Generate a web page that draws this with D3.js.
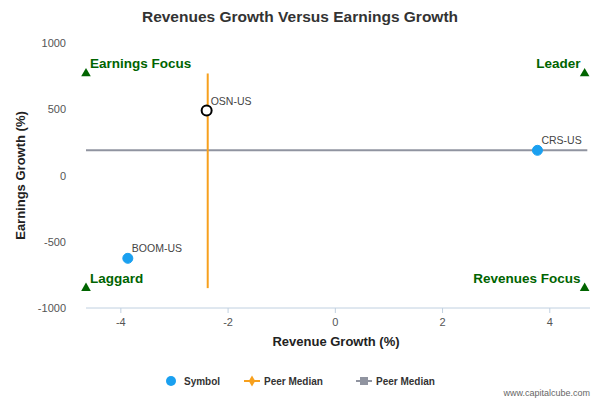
<!DOCTYPE html>
<html><head><meta charset="utf-8">
<script src="https://cdn.jsdelivr.net/npm/d3@7"></script>
<style>body{margin:0;background:#fff;font-family:"Liberation Sans",Arial,sans-serif}</style>
</head><body><div id="chart"></div>
<script>
const symbols = ["OSN-US", "CRS-US", "BOOM-US"];
const revGrowth = [-2.4, 3.77, -3.87];
const epsGrowth = [490, 190, -625];
const peerMedianX = -2.38;
const peerMedianY = 190;
const quadrants = ["Earnings Focus", "Leader", "Laggard", "Revenues Focus"];
const xTicks = [-4, -2, 0, 2, 4];
const yTicks = [1000, 500, 0, -500, -1000];

const width = 600, height = 400;
const svg = d3.select("#chart").append("svg").attr("width", width).attr("height", height);

const x = d3.scaleLinear().domain([-4.65, 4.75]).range([86, 590]);
const y = d3.scaleLinear().domain([-1000, 1000]).range([308, 43]);

svg.append("text").attr("x", 300).attr("y", 22).attr("text-anchor", "middle")
  .attr("font-size", 15.5).attr("font-weight", "bold").attr("fill", "#333")
  .text("Revenues Growth Versus Earnings Growth");

// x axis
svg.append("line").attr("x1", 86).attr("x2", 590).attr("y1", 308).attr("y2", 308).attr("stroke", "#c0d0e0");
xTicks.forEach(t => {
  svg.append("line").attr("x1", x(t)).attr("x2", x(t)).attr("y1", 308).attr("y2", 313).attr("stroke", "#c0d0e0");
  svg.append("text").attr("x", x(t)).attr("y", 326).attr("text-anchor", "middle")
    .attr("font-size", 11).attr("fill", "#555").text(t);
});
yTicks.forEach(t => {
  svg.append("text").attr("x", 66).attr("y", y(t) + 4).attr("text-anchor", "end")
    .attr("font-size", 11).attr("fill", "#555").text(t);
});
svg.append("text").attr("x", 336).attr("y", 346).attr("text-anchor", "middle")
  .attr("font-size", 13).attr("font-weight", "bold").attr("fill", "#222").text("Revenue Growth (%)");
svg.append("text").attr("transform", `translate(25,${y(0)}) rotate(-90)`).attr("text-anchor", "middle")
  .attr("font-size", 13).attr("font-weight", "bold").attr("fill", "#222").text("Earnings Growth (%)");

// peer medians
svg.append("line").attr("x1", x(-4.65)).attr("x2", x(4.7)).attr("y1", y(peerMedianY)).attr("y2", y(peerMedianY))
  .attr("stroke", "#9094a0").attr("stroke-width", 2);
svg.append("line").attr("x1", x(peerMedianX)).attr("x2", x(peerMedianX)).attr("y1", y(770)).attr("y2", y(-850))
  .attr("stroke", "#f7a01d").attr("stroke-width", 2);

// quadrant markers
const qx = [-4.65, 4.65, -4.65, 4.65], qy = [770, 770, -850, -850];
const tri = d3.symbol().type(d3.symbolTriangle).size(40);
quadrants.forEach((q, i) => {
  svg.append("path").attr("d", tri).attr("transform", `translate(${x(qx[i])},${y(qy[i])})`).attr("fill", "#006400");
  const left = i % 2 === 0;
  svg.append("text").attr("x", x(qx[i]) + (left ? 4 : -4)).attr("y", y(qy[i]) - 5)
    .attr("text-anchor", left ? "start" : "end").attr("font-size", 13.5).attr("font-weight", "bold")
    .attr("fill", "#006400").text(q);
});

// points
symbols.forEach((s, i) => {
  const open = i === 0;
  svg.append("circle").attr("cx", x(revGrowth[i])).attr("cy", y(epsGrowth[i])).attr("r", 5)
    .attr("fill", open ? "#fff" : "#1aa0f0").attr("stroke", open ? "#000" : "#1aa0f0").attr("stroke-width", open ? 2 : 1);
  svg.append("text").attr("x", x(revGrowth[i]) + 4).attr("y", y(epsGrowth[i]) - 6)
    .attr("font-size", 10.5).attr("fill", "#444").text(s);
});

// legend
const ly = 381;
svg.append("circle").attr("cx", 171).attr("cy", ly).attr("r", 5).attr("fill", "#1aa0f0");
svg.append("text").attr("x", 184).attr("y", ly + 4).attr("font-size", 10).attr("font-weight", "bold").attr("fill", "#333").text("Symbol");
svg.append("line").attr("x1", 244).attr("x2", 260).attr("y1", ly).attr("y2", ly).attr("stroke", "#f7a01d").attr("stroke-width", 2);
svg.append("path").attr("d", d3.symbol().type(d3.symbolDiamond).size(36)).attr("transform", `translate(252,${ly})`).attr("fill", "#f7a01d");
svg.append("text").attr("x", 264).attr("y", ly + 4).attr("font-size", 10).attr("font-weight", "bold").attr("fill", "#333").text("Peer Median");
svg.append("line").attr("x1", 356).attr("x2", 372).attr("y1", ly).attr("y2", ly).attr("stroke", "#9094a0").attr("stroke-width", 2);
svg.append("rect").attr("x", 360).attr("y", ly - 4).attr("width", 8).attr("height", 8).attr("fill", "#9094a0");
svg.append("text").attr("x", 376).attr("y", ly + 4).attr("font-size", 10).attr("font-weight", "bold").attr("fill", "#333").text("Peer Median");

svg.append("text").attr("x", 590).attr("y", 396).attr("text-anchor", "end").attr("font-size", 9).attr("fill", "#666").text("www.capitalcube.com");
</script></body></html>
